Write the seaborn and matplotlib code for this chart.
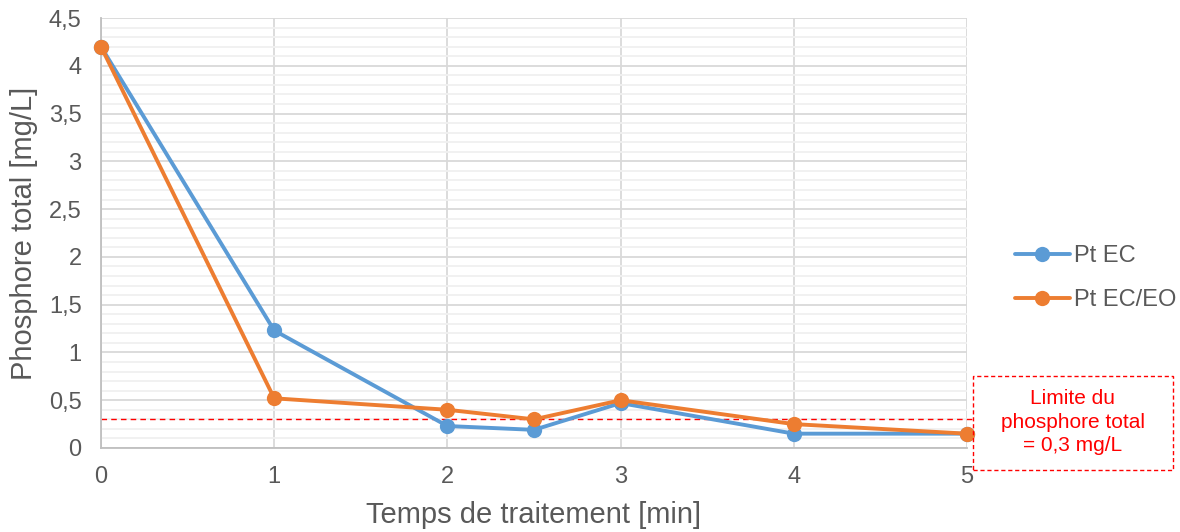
import matplotlib
matplotlib.use("Agg")
import matplotlib.pyplot as plt
from matplotlib.ticker import MultipleLocator, FuncFormatter
from matplotlib.patches import Rectangle
import seaborn as sns
import pandas as pd

# Treatment time (min) and total phosphorus (mg/L)
temps = [0, 1, 2, 2.5, 3, 4, 5]
pt_ec = [4.2, 1.23, 0.23, 0.19, 0.47, 0.15, 0.15]
pt_ec_eo = [4.2, 0.52, 0.40, 0.30, 0.50, 0.25, 0.15]
series_names = ["Pt EC", "Pt EC/EO"]
limite = 0.3

df = pd.DataFrame({
    "temps": temps * 2,
    "pt": pt_ec + pt_ec_eo,
    "serie": [series_names[0]] * len(temps) + [series_names[1]] * len(temps),
})

sns.set_theme(style="white")
plt.rcParams["font.family"] = ["Liberation Sans", "DejaVu Sans"]

W, H = 1180, 532
fig = plt.figure(figsize=(W / 100, H / 100), dpi=100)
ax = fig.add_axes([101 / W, 1 - 448 / H, (967 - 101) / W, (448 - 18) / H])

palette = {"Pt EC": "#5B9BD5", "Pt EC/EO": "#ED7D31"}
sns.lineplot(data=df, x="temps", y="pt", hue="serie", palette=palette,
             marker="o", markersize=11, markeredgewidth=0, linewidth=2.8,
             ax=ax, legend=True, zorder=3, clip_on=False)

ax.set_xlim(0, 5)
ax.set_ylim(0, 4.5)
ax.xaxis.set_major_locator(MultipleLocator(1))
ax.yaxis.set_major_locator(MultipleLocator(0.5))
ax.yaxis.set_minor_locator(MultipleLocator(0.1))
fmt = FuncFormatter(lambda v, p: f"{v:g}".replace(".", ","))
ax.xaxis.set_major_formatter(fmt)
ax.yaxis.set_major_formatter(fmt)

ax.grid(which="major", axis="both", color="#D9D9D9", linewidth=1.3, zorder=0)
ax.grid(which="minor", axis="y", color="#F0F0F0", linewidth=1.3, zorder=0)
ax.set_axisbelow(True)
for side in ["top", "right"]:
    ax.spines[side].set_visible(False)
for side in ["left", "bottom"]:
    ax.spines[side].set_color("#BFBFBF")
    ax.spines[side].set_linewidth(1.3)

ax.tick_params(axis="both", which="both", length=0, labelsize=17,
               labelcolor="#595959")
ax.tick_params(axis="x", pad=13)
ax.tick_params(axis="y", pad=14)

ax.set_xlabel("Temps de traitement [min]", fontsize=21, color="#595959")
ax.set_ylabel("Phosphore total [mg/L]", fontsize=21, color="#595959")
ax.xaxis.set_label_coords(0.5, -(501 - 448) / 430)
ax.yaxis.set_label_coords(-(101 - 38) / 866, 0.5)

# Regulatory limit line extending to the annotation box
ax.plot([0, 5.035], [limite, limite], color="#FF0000", linestyle=(0, (4, 3)),
        linewidth=1.0, clip_on=False, zorder=2)

box = Rectangle((973 / W, 1 - 470 / H), 200 / W, 94 / H,
                transform=fig.transFigure, fill=False, edgecolor="#FF0000",
                linestyle=(0, (3, 2)), linewidth=1.0)
fig.add_artist(box)
fig.text(1073 / W, 1 - 422 / H,
         "Limite du\nphosphore total\n= " + f"{limite:g}".replace(".", ",") + " mg/L",
         ha="center", va="center", color="#FF0000", fontsize=15, linespacing=1.3)

handles, labels = ax.get_legend_handles_labels()
ax.get_legend().remove()
leg = fig.legend(handles, labels, loc="center left",
                 bbox_to_anchor=(994 / W, 1 - 278 / H), frameon=False,
                 fontsize=17, handlelength=2.3, labelspacing=0.95,
                 handletextpad=0.2)
for t in leg.get_texts():
    t.set_color("#595959")

fig.savefig("out.png", dpi=100)
